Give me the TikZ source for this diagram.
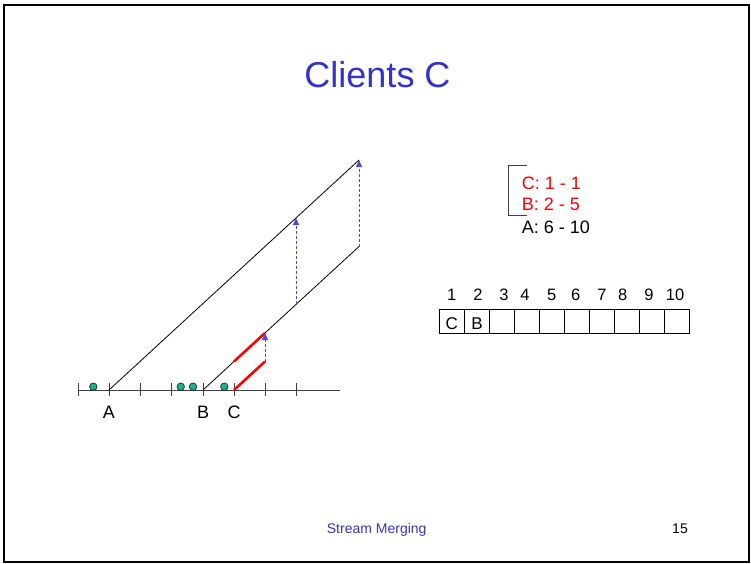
\documentclass[tikz,border=0pt]{standalone}
\usepackage{fontspec}
\setmainfont{Liberation Sans}
\usetikzlibrary{arrows.meta}

\begin{document}
\begin{tikzpicture}[x=1pt, y=-1pt, font=\fontsize{18}{20}\selectfont,
    every node/.style={inner sep=0pt},
    stream/.style={draw=black, line width=0.8pt},
    merged/.style={draw=red, line width=2.6pt},
    catchup/.style={draw=arrowblue, dash pattern=on 3pt off 2pt, line width=0.9pt,
      -{Triangle[length=7pt, width=6pt, fill=arrowblue]}},
    client/.style={circle, draw=black!85, fill=clientgreen, line width=0.7pt, minimum size=7.5pt},
    cellbox/.style={draw, line width=0.8pt, minimum width=25pt, minimum height=24.5pt}]
  \definecolor{slideblue}{HTML}{3333CC}
  \definecolor{arrowblue}{HTML}{4A4ADB}
  \definecolor{clientgreen}{HTML}{19B38A}

  \useasboundingbox (0,0) rectangle (751,563);
  \draw[line width=2pt] (3.8,5) rectangle (749.3,561.7);

  % title
  \node[anchor=base, text=slideblue, font=\fontsize{36}{40}\selectfont] (title) at (377.5,87.7) {Clients C};

  % time axis
  \draw[line width=1pt, black!75] (78,390) -- (340,390);
  \foreach \x in {78,109,140,171,203,234,265,296}
    \draw[line width=1pt, black!75] (\x,383) -- (\x,396);
  \foreach \x in {93.3,180.7,193,224.3}
    \node[client] at (\x,386.7) {};

  \coordinate (A0) at (109,390);
  \coordinate (B0) at (203,390);
  \coordinate (C0) at (234,390);
  \node[anchor=base] (labA) at (109,418.3) {A};
  \node[anchor=base] (labB) at (203,418.3) {B};
  \node[anchor=base] (labC) at (234,418.3) {C};

  % streams
  \coordinate (Atop) at (359,160);
  \coordinate (Btop) at (359,246.5);
  \coordinate (Amid) at (296,218);
  \coordinate (Bmid) at (296,304.4);
  \coordinate (Bred) at (234,361.5);
  \coordinate (Bend) at (265,333);
  \coordinate (Cend) at (265,361.5);
  \draw[stream] (A0) -- (Atop);
  \draw[stream] (B0) -- (Btop);
  \draw[merged] (Bred) -- (Bend);
  \draw[merged] (C0) -- (Cend);
  \draw[catchup] (Btop) -- (Atop);
  \draw[catchup] (Bmid) -- (Amid);
  \draw[catchup] (Cend) -- (Bend);

  % merge list
  \draw[line width=1pt, black!75] (527,165) -- (508,165) -- (508,215) -- (527,215);
  \node[anchor=base west, text=red] (listC) at (521.7,189.3) {C: 1 - 1};
  \node[anchor=base west, text=red] (listB) at (521.7,210.3) {B: 2 - 5};
  \node[anchor=base west] (listA) at (521.7,233.3) {A: 6 - 10};

  % buffer
  \foreach \i in {1,...,10}
    \node[cellbox] (cell\i) at (452+25*\i-25,321.2) {};
  \foreach \n/\x in {1/451.7,2/478,3/504,4/525,5/551.7,6/575.7,7/602,8/622.7,9/649,10/675}
    \node[anchor=base, font=\fontsize{16.5}{18}\selectfont] at (\x,300) {\n};
  \node[anchor=base, font=\fontsize{17}{18}\selectfont] at (451.7,329) {C};
  \node[anchor=base, font=\fontsize{17}{18}\selectfont] at (477,329) {B};

  % footer
  \node[anchor=base, text=slideblue, font=\fontsize{14}{16}\selectfont] (footer) at (376.7,533.3) {Stream Merging};
  \node[anchor=base, font=\fontsize{14}{16}\selectfont] (page) at (680,533.3) {15};
\end{tikzpicture}
\end{document}
